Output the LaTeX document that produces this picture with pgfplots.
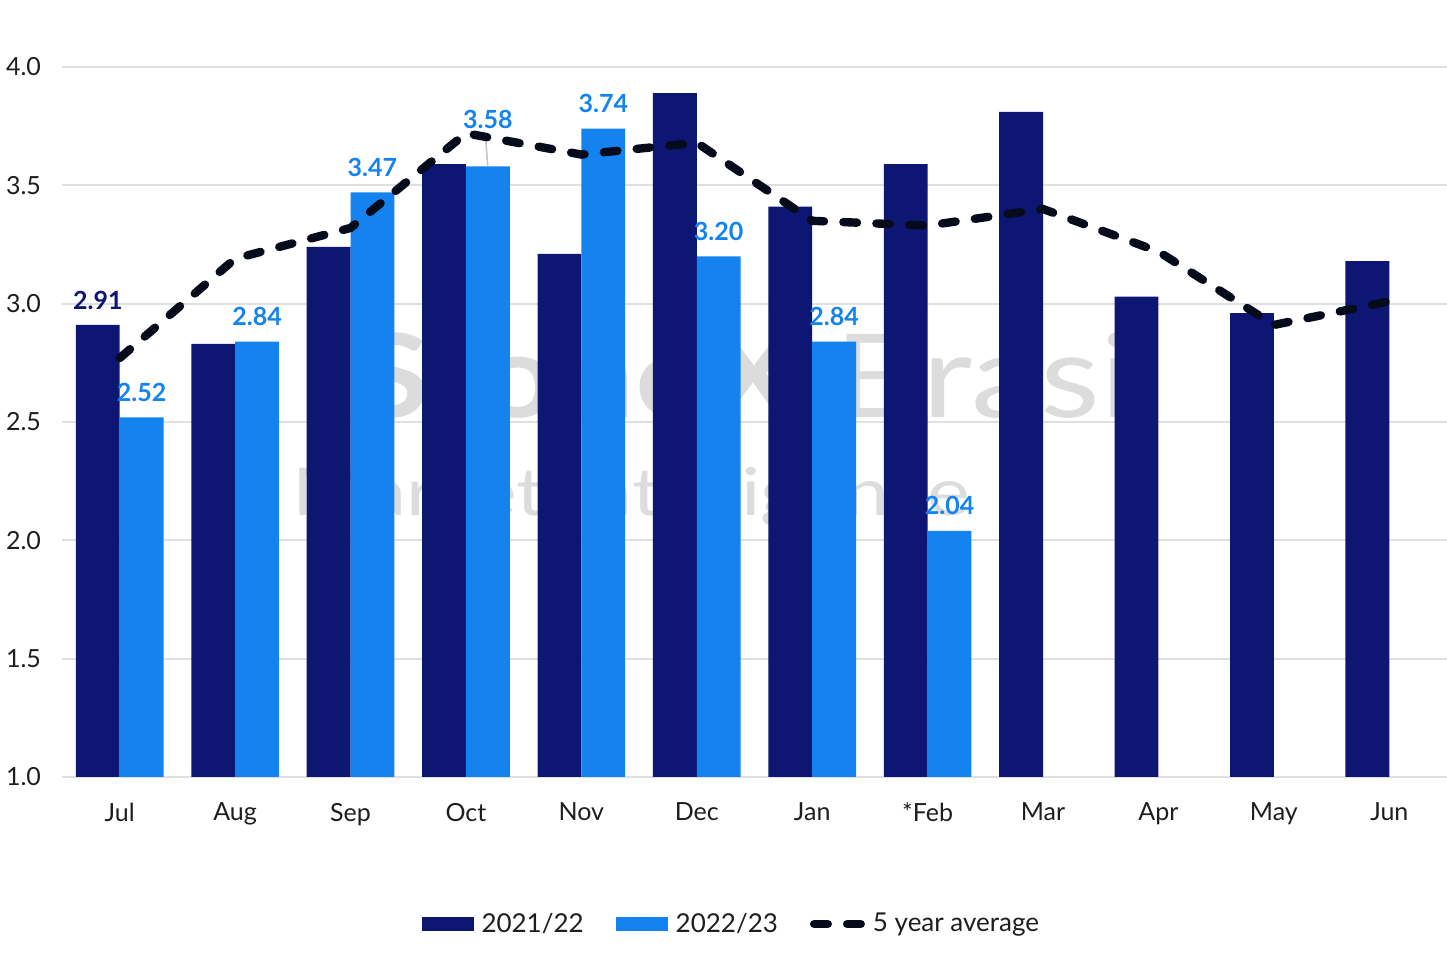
\documentclass[border=0pt]{standalone}
\usepackage{fontspec}
\setmainfont{Lato}
\usepackage{graphicx}
\usepackage{pgfplots}
\pgfplotsset{compat=1.18}
\usepackage{pgfplotstable}

\definecolor{navy}{RGB}{13,22,115}
\definecolor{sky}{RGB}{20,131,240}
\definecolor{avg}{RGB}{5,11,26}
\definecolor{gridc}{RGB}{224,224,224}
\definecolor{wm}{RGB}{220,220,220}
\definecolor{tick}{RGB}{30,30,30}

\pgfplotstableread{
x y lab
0 2.91 2.91
1 2.83 {}
2 3.24 {}
3 3.59 {}
4 3.21 {}
5 3.89 {}
6 3.41 {}
7 3.59 {}
8 3.81 {}
9 3.03 {}
10 2.96 {}
11 3.18 {}
}\darkdata

\pgfplotstableread{
x y lab off
0 2.52 2.52 12.5
1 2.84 2.84 12.5
2 3.47 3.47 12.5
3 3.58 3.58 23.5
4 3.74 3.74 12.5
5 3.20 3.20 12.5
6 2.84 2.84 12.5
7 2.04 2.04 12.5
}\lightdata

\pgfplotstableread{
x y
0 2.77
1 3.19
2 3.32
3 3.72
4 3.63
5 3.68
6 3.35
7 3.33
8 3.40
9 3.22
10 2.91
11 3.01
}\avgdata

\begin{document}
\begin{tikzpicture}
\begin{axis}[
  at={(0,0)}, anchor=south west,
  scale only axis, width=692.5pt, height=355pt,
  xmin=-0.5, xmax=11.5, ymin=1, ymax=4,
  ytick={1,1.5,2,2.5,3,3.5,4},
  yticklabel style={/pgf/number format/fixed, /pgf/number format/fixed zerofill, /pgf/number format/precision=1, xshift=-7pt},
  xtick={0,...,11},
  xticklabels={Jul,Aug,Sep,Oct,Nov,Dec,Jan,*Feb,Mar,Apr,May,Jun},
  xticklabel style={yshift=-9.5pt},
  /pgf/number format/assume math mode=true,
  tick label style={font=\fontsize{12.5}{14}\selectfont, text=tick},
  axis line style={draw=none},
  major tick length=0pt,
  ymajorgrids, grid style={gridc, line width=1pt},
  clip=false,
  legend style={at={(0.484,-0.207)}, anchor=center, draw=none, fill=none,
    legend columns=-1, font=\fontsize{13}{15}\selectfont, text=tick,
    /tikz/every odd column/.append style={column sep=2pt},
    /tikz/every even column/.append style={column sep=14pt}},
]
\node[wm, anchor=base, font=\fontsize{58}{60}\selectfont] at (axis cs:5.55,2.517) {\scalebox{1.19}[1]{\textbf{StoneX} Brasil}};
\node[wm, anchor=base, font=\fontsize{33}{36}\selectfont] at (axis cs:4.43,2.107) {\scalebox{1.22}[1]{Market Intelligence}};

\addplot[ybar, bar width=0.38, bar shift=-0.19, fill=navy, draw=none,
  legend image code/.code={\fill[navy] (0pt,-3.5pt) rectangle (26pt,3.5pt);}]
  table[x=x, y=y] {\darkdata};
\addlegendentry{2021/22}

\addplot[ybar, bar width=0.38, bar shift=0.19, fill=sky, draw=none,
  legend image code/.code={\fill[sky] (0pt,-3.5pt) rectangle (26pt,3.5pt);}]
  table[x=x, y=y] {\lightdata};
\addlegendentry{2022/23}

\addplot[forget plot, color=gray!45, line width=0.8pt] coordinates {(3.172,3.69) (3.189,3.581)};

\addplot[avg, line width=4.2pt, line cap=round, dash pattern=on 6.8pt off 9.7pt,
  legend image code/.code={\draw[avg, line width=4.2pt, line cap=round, dash pattern=on 6.8pt off 9.7pt] (2.1pt,0pt) -- (25.4pt,0pt);}]
  table[x=x, y=y] {\avgdata};
\addlegendentry{5 year average}

% labels on top
\addplot[forget plot, ybar, bar width=0.38, bar shift=-0.19, draw=none, fill=none,
  point meta=explicit symbolic,
  nodes near coords,
  nodes near coords style={font=\bfseries\fontsize{12.5}{14}\selectfont, text=navy, anchor=center, xshift=-10.96pt, yshift=12.5pt}]
  table[x=x, y=y, meta=lab] {\darkdata};
\addplot[forget plot, ybar, bar width=0.38, bar shift=0.19, draw=none, fill=none,
  point meta=explicit symbolic,
  visualization depends on={\thisrow{off}\as\myoff},
  nodes near coords,
  nodes near coords style={font=\bfseries\fontsize{12.5}{14}\selectfont, text=sky, anchor=center, xshift=10.96pt, yshift=\myoff pt}]
  table[x=x, y=y, meta=lab] {\lightdata};
\end{axis}
\pgfresetboundingbox
\useasboundingbox (-31pt,-90pt) rectangle (692.5pt,388.5pt);
\end{tikzpicture}
\end{document}
